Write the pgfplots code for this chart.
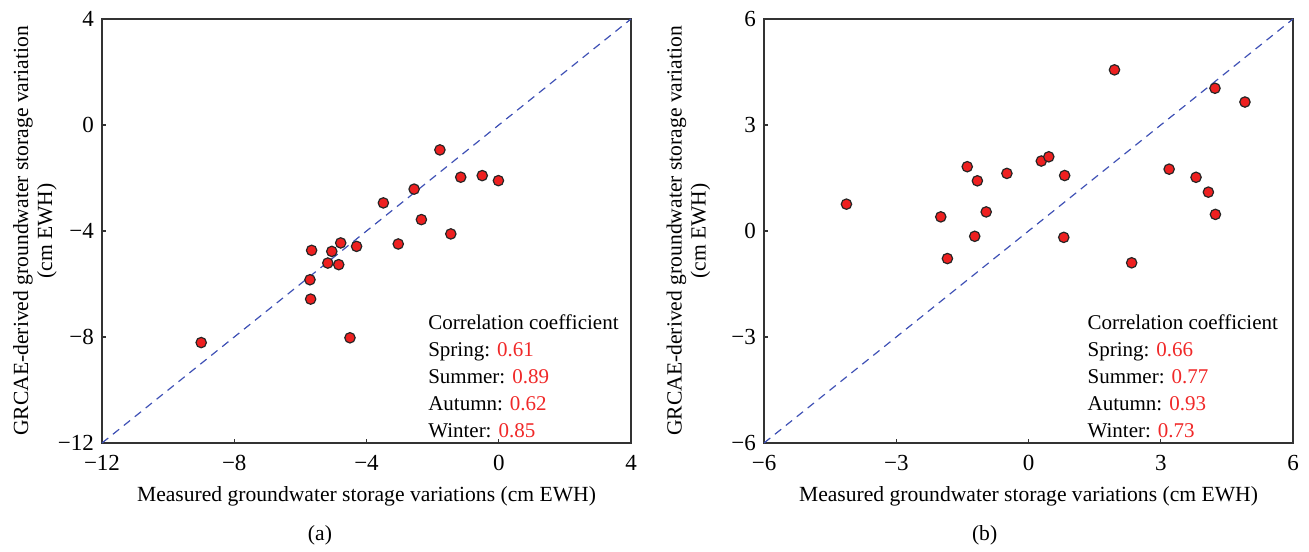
\documentclass[border=0pt]{standalone}
\usepackage{fontspec}
\setmainfont{Liberation Serif}
\usepackage{pgfplots}
\pgfplotsset{compat=1.18}
\definecolor{ptred}{HTML}{EE2020}
\definecolor{lineblue}{HTML}{3F51B5}
\definecolor{corrred}{HTML}{F02828}

\pgfplotsset{
  scatterpanel/.style={
    scale only axis,
    width=264.5pt, height=212pt,
    axis line style={black!80, line width=0.7pt},
    tick pos=left, tick align=inside,
    major tick length=2pt,
    tick style={black!80, line width=0.6pt},
    font=\fontsize{10.8}{12}\selectfont,
    tick label style={font=\fontsize{11.5}{12}\selectfont},
    xticklabel style={yshift=-2.5pt},
    yticklabel style={xshift=-0.5pt},
    xlabel style={at={(axis description cs:0.5,-0.125)}, anchor=center},
    ylabel style={align=center, anchor=center},
    clip=false,
  },
  pts/.style={only marks, mark=*, mark size=2.6pt,
    mark options={fill=ptred, draw=black!85, line width=0.6pt}},
  diag/.style={lineblue, dashed, line width=0.6pt, dash pattern=on 4pt off 3pt},
}

\begin{document}
\begin{tikzpicture}
\useasboundingbox (-51pt,-54pt) rectangle (603.5pt,221.5pt);

% (a)
\begin{axis}[scatterpanel,
  at={(0,0)}, anchor=south west,
  xmin=-12, xmax=4, ymin=-12, ymax=4,
  xtick={-12,-8,-4,0,4}, ytick={-12,-8,-4,0,4},
  xticklabels={−12,−8,−4,0,4},
  yticklabels={−12,−8,−4,0,4},
  xlabel={Measured groundwater storage variations (cm EWH)},
  ylabel={GRCAE-derived groundwater storage variation\\(cm EWH)},
  ylabel style={at={(axis description cs:-0.127,0.5)}},
]
\addplot[diag] coordinates {(-12,-12) (4,4)};
\addplot[pts] coordinates {
  (-1.78,-0.94) (-1.15,-1.97) (-0.50,-1.91) (-0.01,-2.10)
  (-2.56,-2.42) (-3.49,-2.94) (-2.34,-3.57) (-1.45,-4.11)
  (-3.04,-4.49) (-4.78,-4.45) (-4.30,-4.58) (-5.66,-4.73)
  (-5.05,-4.77) (-5.17,-5.21) (-4.84,-5.27) (-5.71,-5.84)
  (-5.69,-6.57) (-4.50,-8.03) (-9.00,-8.21)
};
\node[anchor=north west, align=left, inner sep=0pt,
  font=\fontsize{10.5}{13.5}\selectfont]
  at (rel axis cs:0.616,0.303)
  {Correlation coefficient\\
   Spring: \textcolor{corrred}{0.61}\\
   Summer: \textcolor{corrred}{0.89}\\
   Autumn: \textcolor{corrred}{0.62}\\
   Winter: \textcolor{corrred}{0.85}};
\node[anchor=center] at (rel axis cs:0.412,-0.217) {(a)};
\end{axis}

% (b)
\begin{axis}[scatterpanel,
  at={(331pt,0)}, anchor=south west,
  xmin=-6, xmax=6, ymin=-6, ymax=6,
  xtick={-6,-3,0,3,6}, ytick={-6,-3,0,3,6},
  xticklabels={−6,−3,0,3,6},
  yticklabels={−6,−3,0,3,6},
  xlabel={Measured groundwater storage variations (cm EWH)},
  ylabel={GRCAE-derived groundwater storage variation\\(cm EWH)},
  ylabel style={at={(axis description cs:-0.143,0.5)}},
]
\addplot[diag] coordinates {(-6,-6) (6,6)};
\addplot[pts] coordinates {
  (-4.13,0.76) (-1.99,0.40) (-1.84,-0.78) (-1.39,1.82)
  (-1.16,1.42) (-1.22,-0.15) (-0.96,0.54) (-0.49,1.63)
  (0.29,1.98) (0.46,2.10) (0.82,1.57) (0.80,-0.18)
  (1.95,4.56) (2.34,-0.90) (3.19,1.75) (3.80,1.52)
  (4.08,1.10) (4.24,0.47) (4.23,4.04) (4.91,3.65)
};
\node[anchor=north west, align=left, inner sep=0pt,
  font=\fontsize{10.5}{13.5}\selectfont]
  at (rel axis cs:0.611,0.303)
  {Correlation coefficient\\
   Spring: \textcolor{corrred}{0.66}\\
   Summer: \textcolor{corrred}{0.77}\\
   Autumn: \textcolor{corrred}{0.93}\\
   Winter: \textcolor{corrred}{0.73}};
\node[anchor=center] at (rel axis cs:0.417,-0.217) {(b)};
\end{axis}
\end{tikzpicture}
\end{document}
